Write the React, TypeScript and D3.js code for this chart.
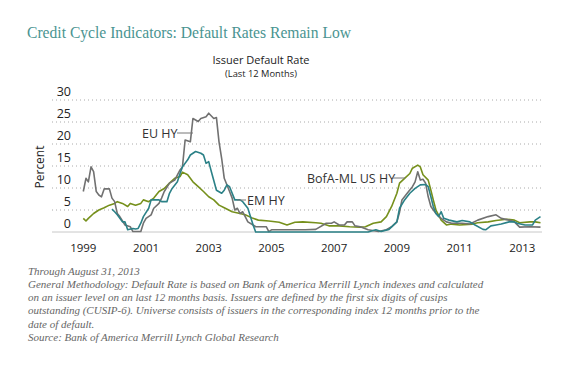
import React, { useEffect, useRef } from "react";
import * as d3 from "d3";

// monthly readings (percent)
const euDates = ["1999-01","1999-02","1999-03","1999-04","1999-05","1999-06","1999-07","1999-08","1999-09","1999-11","1999-12","2000-01","2000-02","2000-03","2000-05","2000-07","2000-08","2000-11","2000-12","2001-01","2001-03","2001-04","2001-06","2001-07","2001-08","2001-10","2001-12","2002-02","2002-03","2002-04","2002-06","2002-07","2002-09","2002-10","2002-12","2003-01","2003-03","2003-04","2003-05","2003-06","2003-07","2003-09","2003-10","2003-11","2003-12","2004-01","2004-02","2004-03","2004-04","2004-06","2004-07","2004-11","2004-12","2005-01","2006-02","2006-06","2006-10","2006-12","2007-01","2007-03","2007-05","2007-06","2007-08","2007-09","2007-11","2008-02","2008-06","2008-09","2008-11","2009-01","2009-02","2009-03","2009-05","2009-07","2009-08","2009-09","2009-10","2009-11","2009-12","2010-01","2010-02","2010-04","2010-06","2010-08","2010-10","2011-02","2011-05","2011-08","2011-12","2012-03","2012-05","2012-08","2012-10","2012-12","2013-04","2013-08"];
const euValues = [9.2,12.2,11.4,14.8,13.7,9.2,8.4,8.0,9.8,9.8,7.7,6.9,4.2,3.5,1.6,1.2,0.1,0.1,2.0,3.1,3.9,5.4,6.5,7.7,9.2,11.1,11.8,14.1,14.8,20.9,20.5,25.8,25.1,25.8,26.2,27.0,25.8,26.0,20.5,16.7,12.2,9.2,7.7,5.0,5.4,4.2,4.6,3.5,2.3,1.6,1.2,1.2,0.1,0.5,0.5,0.6,2.0,2.0,2.3,1.6,1.6,2.3,2.3,1.4,1.2,0.5,0.1,0.5,1.2,2.3,4.5,7.3,8.8,10.3,11.4,13.7,11.8,12.0,11.1,8.0,5.8,4.2,3.1,2.3,2.0,2.0,1.8,2.7,3.5,3.9,3.1,2.7,2.3,1.1,1.2,1.1];

const emDates = ["1999-12","2000-01","2000-02","2000-04","2000-05","2000-06","2000-08","2000-09","2000-10","2000-11","2000-12","2001-02","2001-03","2001-04","2001-06","2001-07","2001-09","2001-10","2001-11","2002-01","2002-02","2002-03","2002-05","2002-06","2002-08","2002-10","2002-11","2002-12","2003-01","2003-02","2003-04","2003-06","2003-07","2003-08","2003-09","2003-11","2004-01","2004-02","2004-04","2004-05","2004-06","2004-07","2008-02","2008-05","2008-07","2008-10","2009-01","2009-02","2009-04","2009-06","2009-08","2009-10","2009-12","2010-01","2010-02","2010-03","2010-04","2010-05","2010-06","2010-07","2010-09","2010-12","2011-02","2011-05","2011-07","2011-10","2011-11","2012-01","2012-03","2012-05","2012-08","2012-10","2012-11","2013-02","2013-05","2013-06","2013-08"];
const emValues = [5.2,4.6,3.9,2.3,2.3,0.5,0.8,0.7,0.8,2.0,3.5,5.4,7.3,7.3,7.3,6.9,6.9,8.8,9.9,11.4,13.3,14.8,16.4,17.5,18.3,17.9,17.5,15.6,16.0,13.7,9.5,8.8,9.5,10.7,10.3,7.3,7.3,6.9,5.4,3.5,1.6,0.0,0.0,0.5,0.1,0.6,2.3,5.4,7.3,8.8,9.9,10.7,10.8,10.3,8.0,5.8,4.2,3.5,4.6,3.1,2.7,2.3,2.6,2.3,1.6,0.6,0.5,1.4,1.6,1.8,2.3,2.3,2.0,1.6,1.6,2.7,3.5];

const usDates = ["1999-01","1999-02","1999-03","1999-05","1999-07","1999-09","1999-11","2000-01","2000-02","2000-04","2000-06","2000-07","2000-09","2000-11","2000-12","2001-02","2001-04","2001-06","2001-08","2001-10","2001-12","2002-02","2002-03","2002-05","2002-07","2002-09","2002-11","2003-01","2003-03","2003-05","2003-07","2003-10","2004-01","2004-03","2004-06","2004-08","2004-12","2005-04","2005-07","2005-10","2006-01","2006-06","2006-08","2006-11","2007-03","2007-07","2007-11","2008-01","2008-04","2008-07","2008-09","2008-11","2009-01","2009-02","2009-04","2009-06","2009-07","2009-09","2009-10","2009-11","2010-01","2010-02","2010-03","2010-04","2010-06","2010-08","2010-10","2011-01","2011-06","2011-08","2011-12","2012-03","2012-07","2012-10","2012-12","2013-04","2013-06","2013-08"];
const usValues = [3.1,2.5,3.1,4.2,5.0,5.5,6.1,6.5,6.9,6.5,5.8,6.5,6.1,6.5,7.3,6.9,7.7,9.2,9.9,11.1,12.2,12.6,13.6,13.0,11.4,10.3,9.2,8.0,7.3,6.1,5.5,4.6,4.2,3.9,3.1,2.7,2.5,2.2,1.6,2.2,2.3,2.1,2.0,1.4,1.4,1.2,1.1,1.2,2.0,2.3,3.5,5.8,8.8,11.1,12.2,13.3,14.5,15.2,14.8,13.0,11.8,9.5,7.3,5.0,2.7,1.6,1.8,1.6,1.8,2.1,2.3,2.6,2.9,2.7,2.1,2.3,2.3,2.1];

const yTicks = [0, 5, 10, 15, 20, 25, 30];
const xTickYears = [1999, 2001, 2003, 2005, 2007, 2009, 2011, 2013];

const footnotes = [
  "Through August 31, 2013",
  "General Methodology: Default Rate is based on Bank of America Merrill Lynch indexes and calculated",
  "on an issuer level on an last 12 months basis. Issuers are defined by the first six digits of cusips",
  "outstanding (CUSIP-6). Universe consists of issuers in the corresponding index 12 months prior to the",
  "date of default.",
  "Source: Bank of America Merrill Lynch Global Research",
];

const GRAY = "#717171";
const TEAL = "#2b8187";
const OLIVE = "#76901c";
const SANS = "'Open Sans', 'Noto Sans', sans-serif";
const SERIF = "'Liberation Serif', 'DejaVu Serif', serif";

export default function App() {
  const svgRef = useRef<SVGSVGElement>(null);

  useEffect(() => {
    if (!svgRef.current) return;
    const svg = d3.select(svgRef.current);
    svg.selectAll("*").remove();

    const parse = d3.timeParse("%Y-%m");
    const x = d3.scaleTime()
      .domain([new Date(1999, 0, 1), new Date(2013, 7, 1)])
      .range([83.3, 540.5]);
    const y = d3.scaleLinear().domain([0, 30]).range([232, 100]);
    const left = 52, right = 542;

    // title block
    svg.append("text").attr("x", 27).attr("y", 38)
      .style("font-family", SERIF).style("font-size", "16.5px").attr("fill", "#4a9491")
      .attr("textLength", 324).attr("lengthAdjust", "spacingAndGlyphs")
      .text("Credit Cycle Indicators: Default Rates Remain Low");
    svg.append("text").attr("x", 261).attr("y", 64).attr("text-anchor", "middle")
      .style("font-family", SANS).style("font-size", "11px").attr("fill", "#222")
      .text("Issuer Default Rate");
    svg.append("text").attr("x", 261).attr("y", 77).attr("text-anchor", "middle")
      .style("font-family", SANS).style("font-size", "9.3px").attr("fill", "#222")
      .text("(Last 12 Months)");

    // grid
    yTicks.filter(v => v > 0).forEach(v => {
      svg.append("line").attr("x1", left).attr("x2", right).attr("y1", y(v)).attr("y2", y(v))
        .attr("stroke", "#aaa").attr("stroke-width", 1).attr("stroke-dasharray", "1,3");
    });
    svg.append("line").attr("x1", left).attr("x2", right).attr("y1", y(0)).attr("y2", y(0))
      .attr("stroke", "#c8c8c8").attr("stroke-width", 1);

    // y labels sit above their gridline
    yTicks.forEach(v => {
      svg.append("text").attr("x", 71).attr("y", y(v) - 4).attr("text-anchor", "end")
        .style("font-family", SANS).style("font-size", "12.5px").attr("fill", "#222")
        .text(String(v));
    });
    svg.append("text").attr("transform", "translate(44,167) rotate(-90)").attr("text-anchor", "middle")
      .style("font-family", SANS).style("font-size", "12px").attr("fill", "#222")
      .text("Percent");

    xTickYears.forEach(yr => {
      svg.append("text").attr("x", x(new Date(yr, 0, 1))).attr("y", 252).attr("text-anchor", "middle")
        .style("font-family", SANS).style("font-size", "11.5px").attr("fill", "#222")
        .text(String(yr));
    });

    const line = d3.line<[Date, number]>().x(d => x(d[0])).y(d => y(d[1])).curve(d3.curveLinear);
    const series: [string[], number[], string][] = [
      [usDates, usValues, OLIVE],
      [euDates, euValues, GRAY],
      [emDates, emValues, TEAL],
    ];
    series.forEach(([dates, vals, color]) => {
      const pts = dates.map((d, i) => [parse(d) as Date, vals[i]] as [Date, number]);
      svg.append("path").datum(pts).attr("fill", "none").attr("stroke", color)
        .attr("stroke-width", 1.6).attr("stroke-linejoin", "round").attr("d", line);
    });

    // series labels with leaders
    const labels = [
      { text: "EU HY", x: 142, y: 133, lx1: 177, lx2: 193 },
      { text: "EM HY", x: 247, y: 200, lx1: 237, lx2: 246 },
      { text: "BofA-ML US HY", x: 307, y: 178, lx1: 393, lx2: 405 },
    ];
    labels.forEach(l => {
      svg.append("text").attr("x", l.x).attr("y", l.y + 4.5)
        .style("font-family", SANS).style("font-size", "12.5px").attr("fill", "#333")
        .text(l.text);
      svg.append("line").attr("x1", l.lx1).attr("x2", l.lx2).attr("y1", l.y).attr("y2", l.y)
        .attr("stroke", "#777").attr("stroke-width", 1);
    });

    // footnotes
    footnotes.forEach((t, i) => {
      svg.append("text").attr("x", 28).attr("y", 274.5 + i * 13.3)
        .style("font-family", SERIF).style("font-style", "italic").style("font-size", "11px")
        .attr("fill", "#666").text(t);
    });
  }, []);

  return (
    <div style={{ position: "absolute", left: 0, top: 0 }}>
      <svg ref={svgRef} width={580} height={366} style={{ display: "block", background: "#fff" }} />
    </div>
  );
}
